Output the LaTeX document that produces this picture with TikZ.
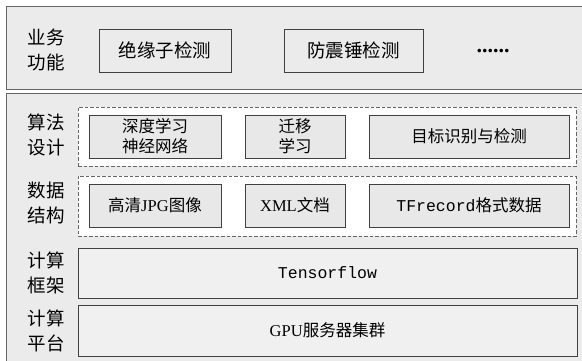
\documentclass[tikz,border=0pt]{standalone}
\usepackage{fontspec}
\setmainfont{Liberation Serif}
\newfontfamily\cjk{Noto Sans CJK SC}
\newfontfamily\mono{Liberation Mono}
\begin{document}
\begin{tikzpicture}[x=1pt,y=-1pt,
  panel/.style={draw=black!60,fill=black!8,line width=0.9pt,inner sep=0pt},
  group/.style={draw=black!60,fill=white,dashed,line width=0.8pt,dash pattern=on 3.5pt off 2pt,inner sep=0pt},
  cbox/.style={draw=black!75,fill=black!9,line width=0.8pt,inner sep=0pt,align=center,font=\cjk\fontsize{16.5}{20}\selectfont},
  bbox/.style={draw=black!75,fill=black!8,line width=0.8pt,inner sep=0pt,align=center,font=\cjk\fontsize{18.5}{22}\selectfont},
  wide/.style={draw=black!75,fill=black!6,line width=0.8pt,inner sep=0pt,align=center,font=\cjk\fontsize{16.5}{20}\selectfont,minimum width=499pt},
  lab/.style={align=center,inner sep=0pt,font=\cjk\fontsize{18.5}{25}\selectfont}]
\useasboundingbox (0,0) rectangle (582,361);
\clip (0,0) rectangle (582,361);
\fill[white] (0,0) rectangle (582,361);
% panels
\node[panel,minimum width=600pt,minimum height=83pt] (top) at (306,47.5) {};
\node[panel,minimum width=600pt,minimum height=307pt] (bot) at (306,246.5) {};
% business row
\node[lab] (l1) at (46,49.5) {业务\\功能};
\node[bbox,minimum width=132pt,minimum height=43pt] (b1) at (165,50.5) {绝缘子检测};
\node[bbox,minimum width=139pt,minimum height=43pt] (b2) at (353.5,50.5) {防震锤检测};
\node[inner sep=0pt,font=\bfseries\fontsize{22}{22}\selectfont] (dots) at (493,51) {......};
% algorithm design
\node[lab] (l2) at (46,135) {算法\\设计};
\node[group,minimum width=498pt,minimum height=59pt] (g1) at (327,136.5) {};
\node[cbox,minimum width=132pt,minimum height=43pt] (a1) at (155,136.5) {深度学习\\神经网络};
\node[cbox,minimum width=100pt,minimum height=43pt] (a2) at (295,136.5) {迁移\\学习};
\node[cbox,minimum width=200pt,minimum height=43pt] (a3) at (469,136.5) {目标识别与检测};
% data structure
\node[lab] (l3) at (46,203) {数据\\结构};
\node[group,minimum width=498pt,minimum height=60pt] (g2) at (327,206) {};
\node[cbox,minimum width=132pt,minimum height=43pt] (s1) at (155,205.5) {高清{\fontspec{Liberation Serif}JPG}图像};
\node[cbox,minimum width=100pt,minimum height=43pt] (s2) at (295,205.5) {{\fontspec{Liberation Serif}XML}文档};
\node[cbox,minimum width=200pt,minimum height=43pt] (s3) at (469,205.5) {{\mono TFrecord}格式数据};
% framework
\node[lab] (l4) at (46,273) {计算\\框架};
\node[wide,minimum height=50pt] (tf) at (327.5,273) {{\mono Tensorflow}};
% platform
\node[lab] (l5) at (46,331) {计算\\平台};
\node[wide,minimum height=51pt] (gpu) at (327.5,330.5) {{\fontspec{Liberation Serif}GPU}服务器集群};
\end{tikzpicture}
\end{document}
